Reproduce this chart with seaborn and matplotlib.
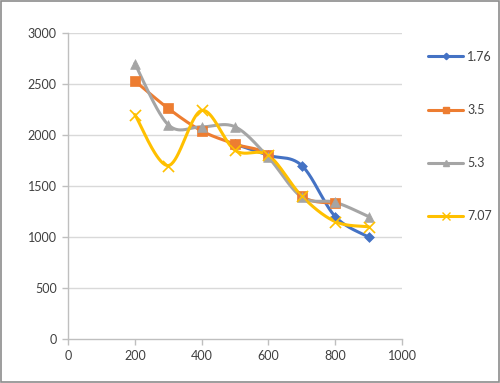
import numpy as np
import pandas as pd
import matplotlib
matplotlib.use("Agg")
import matplotlib.pyplot as plt
import seaborn as sns
from matplotlib.lines import Line2D

# ---- data ----
series_names = ["1.76", "3.5", "5.3", "7.07"]
x_176 = [500, 600, 700, 800, 900]
y_176 = [1910, 1800, 1700, 1200, 1000]
x_35 = [200, 300, 400, 500, 600, 700, 800]
y_35 = [2530, 2260, 2040, 1910, 1800, 1400, 1330]
x_53 = [200, 300, 400, 500, 600, 700, 800, 900]
y_53 = [2700, 2100, 2080, 2080, 1780, 1390, 1340, 1200]
x_707 = [200, 300, 400, 500, 600, 700, 800, 900]
y_707 = [2200, 1700, 2240, 1850, 1800, 1400, 1150, 1100]
x_ticks = [0, 200, 400, 600, 800, 1000]
y_ticks = [0, 500, 1000, 1500, 2000, 2500, 3000]

colors = ["#4472C4", "#ED7D31", "#A5A5A5", "#FFC000"]
markers = ["D", "s", "^", "x"]
msizes = [5, 7, 7, 8]

sns.set_theme(style="white")
plt.rcParams["font.family"] = ["Lato", "DejaVu Sans"]


def smooth(xs, ys, n=40):
    """Excel-like smoothed line (Catmull-Rom Bezier) through the data points."""
    P = np.column_stack([xs, ys]).astype(float)
    P_ext = np.vstack([P[0], P, P[-1]])
    out = []
    t = np.linspace(0, 1, n)
    for i in range(len(P) - 1):
        p0, p1, p2, p3 = P_ext[i], P_ext[i + 1], P_ext[i + 2], P_ext[i + 3]
        c1 = p1 + (p2 - p0) / 6
        c2 = p2 - (p3 - p1) / 6
        seg = ((1 - t) ** 3)[:, None] * p1 + (3 * (1 - t) ** 2 * t)[:, None] * c1 \
            + (3 * (1 - t) * t ** 2)[:, None] * c2 + (t ** 3)[:, None] * p2
        out.append(seg if i == 0 else seg[1:])
    arr = np.vstack(out)
    return arr[:, 0], arr[:, 1]


fig = plt.figure(figsize=(5.0, 3.83), dpi=100)
ax = fig.add_axes([0.136, 0.115, 0.668, 0.799])

for tk in y_ticks[1:]:
    ax.axhline(tk, color="#d9d9d9", lw=1.0, zorder=0)

data = [(x_176, y_176), (x_35, y_35), (x_53, y_53), (x_707, y_707)]
handles = []
for (xs, ys), name, c, m, ms in zip(data, series_names, colors, markers, msizes):
    sx, sy = smooth(xs, ys)
    df_line = pd.DataFrame({"x": sx, "y": sy, "idx": np.arange(len(sx))})
    sns.lineplot(data=df_line, x="x", y="y", sort=False, estimator=None,
                 color=c, lw=2.2, ax=ax, zorder=3)
    df_pts = pd.DataFrame({"x": xs, "y": ys})
    if m == "x":
        sns.scatterplot(data=df_pts, x="x", y="y", marker="x", s=ms ** 2,
                        color=c, linewidth=1.2, ax=ax, zorder=4)
    else:
        sns.scatterplot(data=df_pts, x="x", y="y", marker=m, s=ms ** 2,
                        color=c, edgecolor=c, linewidth=0.5, ax=ax, zorder=4)
    handles.append(Line2D([0], [0], color=c, lw=2.2, marker=m, markersize=ms * 0.65,
                          markeredgecolor=c, markerfacecolor=c, label=name))

ax.set_xlim(0, 1000)
ax.set_ylim(0, 3000)
ax.set_xticks(x_ticks)
ax.set_yticks(y_ticks)
ax.set_xlabel("")
ax.set_ylabel("")
for s in ["top", "right"]:
    ax.spines[s].set_visible(False)
for s in ["left", "bottom"]:
    ax.spines[s].set_color("#bfbfbf")
    ax.spines[s].set_linewidth(1.0)
ax.tick_params(axis="both", which="both", length=4, width=1.0, color="#bfbfbf",
               labelsize=9, labelcolor="#404040", direction="out", pad=4,
               bottom=True, left=True)

leg = fig.legend(handles=handles, loc="upper left", bbox_to_anchor=(0.834, 0.897),
                 frameon=False, fontsize=9, labelspacing=3.3, handlelength=2.8,
                 handletextpad=0.3, labelcolor="#404040")

# outer border
fig.patches.append(plt.Rectangle((0.002, 0.003), 0.996, 0.994, transform=fig.transFigure,
                                 fill=False, edgecolor="#8c8c8c", lw=1.2))

fig.savefig("out.png", dpi=100)
